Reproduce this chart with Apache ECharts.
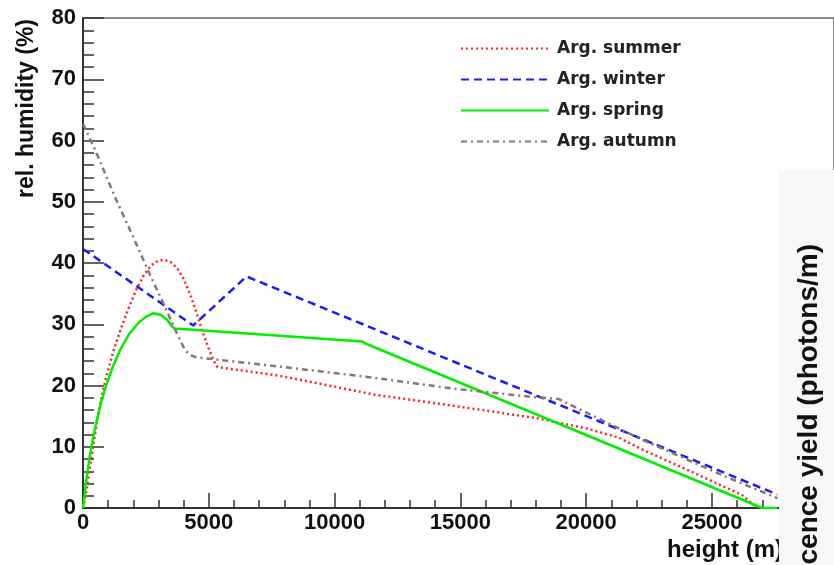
<!DOCTYPE html>
<html>
<head>
<meta charset="utf-8">
<script src="https://cdn.jsdelivr.net/npm/echarts@6/dist/echarts.min.js"></script>
<style>
  html, body { margin: 0; padding: 0; background: #fff; }
  #chart1 { width: 834px; height: 565px; }
</style>
</head>
<body>
<div id="chart1"></div>
<script>
// data: [height (m), rel. humidity (%)]
var summer = [[0,0],[150,3.2],[400,10],[650,16.5],[900,21],[1200,25.5],[1500,29.2],[1800,32.5],[2100,35.5],[2400,37.9],
  [2700,39.6],[3000,40.4],[3250,40.5],[3500,40.1],[3750,39.1],[4000,37.4],[4250,35],[4500,32],[4750,28.8],[5000,26],
  [5200,24],[5350,23],[7800,21.6],[11600,18.5],[14700,16.7],[18000,14.7],[20000,13],[21300,11.5],[22200,9.6],
  [24200,5.9],[26200,2.1],[26800,0]];
var winter = [[0,42.3],[4380,29.8],[6500,37.8],[27600,2.2]];
var spring = [[0,0],[130,4.5],[265,8.4],[450,12.5],[662,16.3],[900,19.8],[1189,23.1],[1500,26],[1850,28.5],
  [2200,30.2],[2500,31.2],[2800,31.8],[3100,31.5],[3350,30.7],[3550,29.6],[3650,29.3],[11100,27.2],[11200,26.9],
  [27000,0],[27600,0]];
var autumn = [[0,62.7],[500,58.3],[1300,50.5],[2000,44.2],[2650,38.2],[3150,33.8],[3700,28.8],[4050,25.8],
  [4250,25],[4500,24.6],[7800,23.1],[11500,21.3],[14700,19.5],[17700,18.2],[18900,17.8],[22200,11.2],
  [25500,5.2],[27600,1.6]];
var seriesNames = ['Arg. summer', 'Arg. winter', 'Arg. spring', 'Arg. autumn'];

var labelFont = { color: '#111', fontSize: 22, fontWeight: 'bold', fontFamily: 'Liberation Sans' };

function mkLine(name, data, color, type, width) {
    return {
        name: name,
        type: 'line',
        data: data,
        symbol: 'none',
        animation: false,
        lineStyle: { color: color, type: type, width: width },
        itemStyle: { color: color }
    };
}

var option = {
    backgroundColor: '#fff',
    animation: false,
    grid: {
        left: 83, top: 18, width: 753, bottom: 57,
        show: true, borderColor: '#666', borderWidth: 1.5
    },
    legend: {
        data: seriesNames,
        orient: 'vertical',
        left: 455, top: 35,
        itemWidth: 88, itemHeight: 14, itemGap: 14,
        itemStyle: { opacity: 0 },
        textStyle: { color: '#222', fontSize: 17, fontWeight: 'bold', fontFamily: 'DejaVu Sans', padding: [0, 0, 0, 3] }
    },
    xAxis: {
        type: 'value',
        min: 0, max: 29850, interval: 5000,
        splitLine: { show: false },
        axisLine: { lineStyle: { color: '#333', width: 2 } },
        axisTick: { inside: true, length: 15, lineStyle: { color: '#333', width: 1.5 } },
        minorTick: { show: true, splitNumber: 5, length: 8, lineStyle: { color: '#333', width: 1.5 } },
        axisLabel: Object.assign({ margin: 4, showMaxLabel: false, formatter: function (v) { return String(v); } }, labelFont)
    },
    yAxis: {
        type: 'value',
        min: 0, max: 80, interval: 10,
        splitLine: { show: false },
        axisLine: { lineStyle: { color: '#333', width: 2 } },
        axisTick: { inside: true, length: 21, lineStyle: { color: '#333', width: 1.5 } },
        minorTick: { show: true, splitNumber: 5, length: 11, lineStyle: { color: '#333', width: 1.5 } },
        axisLabel: Object.assign({ margin: 7 }, labelFont)
    },
    graphic: [
        { type: 'text', z: 100, left: 667, top: 538,
          style: { text: 'height (m)', fill: '#111', font: 'bold 24px "Liberation Sans"' } },
        { type: 'text', z: 100, x: 27, y: 19, rotation: Math.PI / 2,
          style: { text: 'rel. humidity (%)', fill: '#111', font: 'bold 23px "Liberation Sans"',
                   align: 'right', verticalAlign: 'middle' } },
        { type: 'rect', z: 110, shape: { x: 779, y: 170, width: 60, height: 400 },
          style: { fill: '#f8f8f8' } },
        { type: 'text', z: 120, x: 809, y: 244, rotation: Math.PI / 2,
          style: { text: 'fluorescence yield (photons/m)', fill: '#111', font: 'bold 28px "Liberation Sans"',
                   align: 'right', verticalAlign: 'middle' } }
    ],
    series: [
        mkLine(seriesNames[0], summer, '#ff2020', [2, 3], 2.5),
        mkLine(seriesNames[1], winter, '#1a1aff', [8, 5], 2.5),
        mkLine(seriesNames[2], spring, '#00ee00', 'solid', 2.5),
        mkLine(seriesNames[3], autumn, '#8b766c', [6, 4, 2, 4], 2.5)
    ]
};

var myChart = echarts.init(document.getElementById('chart1'));
myChart.setOption(option);
</script>
</body>
</html>
